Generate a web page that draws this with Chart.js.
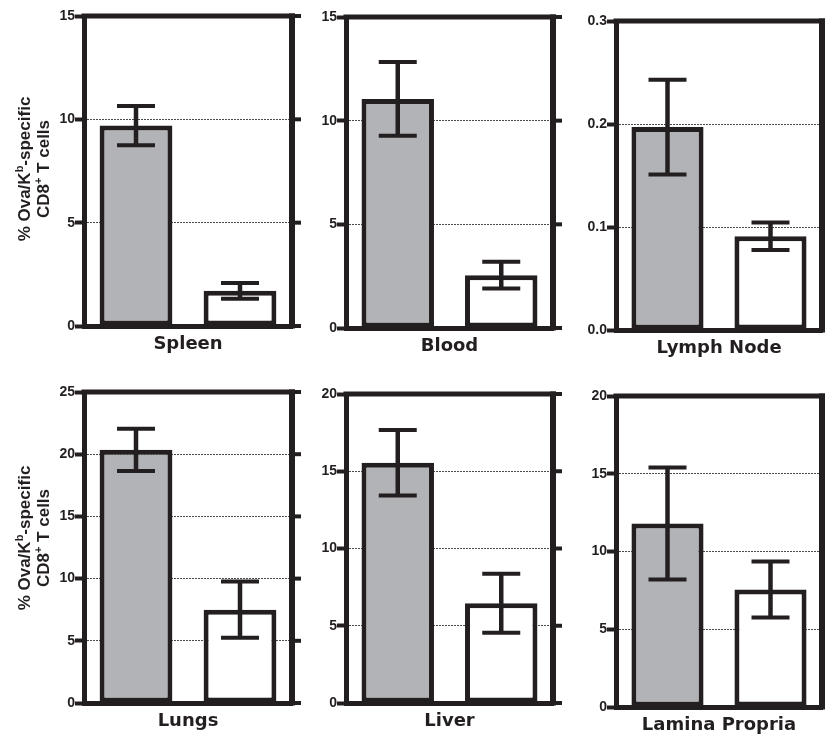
<!DOCTYPE html>
<html>
<head>
<meta charset="utf-8">
<script src="https://cdn.jsdelivr.net/npm/chart.js@4.4.1/dist/chart.umd.min.js"></script>
<style>
    html, body { margin: 0; padding: 0; background: #fff; overflow: hidden; }
    body { position: relative; width: 825px; height: 739px; }
    .panel { position: absolute; }
    .ytitle {
        position: absolute;
        transform: translate(-50%, -50%) rotate(-90deg);
        font: bold 17px 'Liberation Sans', Arial, sans-serif;
        line-height: 19px;
        text-align: center;
        white-space: nowrap;
        color: #231f20;
        z-index: 2;
    }
    .ytitle sup { font-size: 11px; line-height: 0; vertical-align: 7px; }
</style>
</head>
<body>
<div class="ytitle" style="left:34px; top:169px">% Ova/K<sup>b</sup>-specific<br>CD8<sup>+</sup> T cells</div>
<div class="ytitle" style="left:34px; top:538px">% Ova/K<sup>b</sup>-specific<br>CD8<sup>+</sup> T cells</div>
<script>
// Data
const organs = ['Spleen', 'Blood', 'Lymph Node', 'Lungs', 'Liver', 'Lamina Propria'];
const yMax = [15, 15, 0.3, 25, 20, 20];
const yStep = [5, 5, 0.1, 5, 5, 5];
const filledMean = [9.7, 11.05, 0.197, 20.35, 15.55, 11.8];
const filledErr = [0.95, 1.78, 0.046, 1.7, 2.12, 3.6];
const openMean = [1.7, 2.55, 0.091, 7.5, 6.45, 7.55];
const openErr = [0.38, 0.64, 0.0134, 2.26, 1.91, 1.8];

// Colours
const INK = '#231f20';
const GREY = '#b2b3b7';

// Layout: plot frame of each panel (axis line centres, px)
const FRAMES = [
    [84, 16, 292, 326],
    [346, 17, 553, 328],
    [616, 21, 822, 330],
    [84, 392, 292, 703],
    [346, 394, 553, 703],
    [616, 396, 822, 707]
];
const AXIS_W = 40, AXIS_H = 29, PAD_T = 10, PAD_R = 12;

Chart.defaults.font.family = "'DejaVu Sans', sans-serif";
Chart.defaults.font.weight = 'bold';
Chart.defaults.color = INK;

// top + right frame lines, with outward ticks on the right
const framePlugin = {
    id: 'frame',
    afterDatasetsDraw(chart) {
        const { ctx, chartArea: a, scales: { y } } = chart;
        ctx.save();
        ctx.strokeStyle = INK;
        ctx.lineWidth = 5;
        ctx.beginPath();
        ctx.moveTo(a.left - 2.5, a.top);
        ctx.lineTo(a.right + 3, a.top);
        ctx.stroke();
        ctx.lineWidth = 6;
        ctx.beginPath();
        ctx.moveTo(a.right, a.top - 2.5);
        ctx.lineTo(a.right, a.bottom + 2.5);
        ctx.stroke();
        ctx.lineWidth = 4;
        y.ticks.forEach(t => {
            const py = y.getPixelForValue(t.value);
            ctx.beginPath();
            ctx.moveTo(a.right, py);
            ctx.lineTo(a.right + 9, py);
            ctx.stroke();
        });
        ctx.restore();
    }
};

// mean +/- error whiskers
const errorBarPlugin = {
    id: 'errorBars',
    afterDatasetsDraw(chart) {
        const { ctx, scales: { y } } = chart;
        chart.data.datasets.forEach((ds, di) => {
            chart.getDatasetMeta(di).data.forEach((bar, j) => {
                const hi = y.getPixelForValue(ds.data[j] + ds.errors[j]);
                const lo = y.getPixelForValue(ds.data[j] - ds.errors[j]);
                ctx.save();
                ctx.strokeStyle = INK;
                ctx.lineWidth = 4.5;
                ctx.beginPath();
                ctx.moveTo(bar.x, hi);
                ctx.lineTo(bar.x, lo);
                ctx.stroke();
                ctx.lineWidth = 4;
                ctx.beginPath();
                ctx.moveTo(bar.x - 19, hi);
                ctx.lineTo(bar.x + 19, hi);
                ctx.moveTo(bar.x - 19, lo);
                ctx.lineTo(bar.x + 19, lo);
                ctx.stroke();
                ctx.restore();
            });
        });
    }
};

function makePanel(i) {
    const [l, t, r, b] = FRAMES[i];
    const box = document.createElement('div');
    box.className = 'panel';
    box.style.left = (l - AXIS_W) + 'px';
    box.style.top = (t - PAD_T) + 'px';
    box.style.width = (r + PAD_R - (l - AXIS_W)) + 'px';
    box.style.height = (b + AXIS_H - (t - PAD_T)) + 'px';
    const canvas = document.createElement('canvas');
    box.appendChild(canvas);
    document.body.appendChild(box);

    const decimals = yStep[i] < 1 ? 1 : 0;

    new Chart(canvas, {
        type: 'bar',
        data: {
            labels: ['', ''],
            datasets: [{
                data: [filledMean[i], openMean[i]],
                errors: [filledErr[i], openErr[i]],
                backgroundColor: [GREY, '#ffffff'],
                borderColor: INK,
                borderWidth: 5,
                borderSkipped: false,
                barPercentage: 0.7,
                categoryPercentage: 1
            }]
        },
        options: {
            responsive: true,
            maintainAspectRatio: false,
            animation: false,
            layout: { padding: { top: PAD_T, right: PAD_R, left: 0, bottom: 0 } },
            plugins: { legend: { display: false }, tooltip: { enabled: false } },
            scales: {
                x: {
                    afterFit: s => { s.height = AXIS_H; },
                    ticks: { display: false },
                    grid: { display: false },
                    border: { width: 5, color: INK },
                    title: {
                        display: true,
                        text: organs[i],
                        color: INK,
                        font: { size: 18, weight: 'bold', lineHeight: 1.2 },
                        padding: 0
                    }
                },
                y: {
                    min: 0,
                    max: yMax[i],
                    afterFit: s => { s.width = AXIS_W; },
                    ticks: {
                        stepSize: yStep[i],
                        padding: 0,
                        color: INK,
                        font: { family: "'Liberation Sans', Arial, sans-serif", size: 14, weight: 'bold' },
                        callback: v => Number(v).toFixed(decimals)
                    },
                    grid: {
                        color: c => (c.index === 0 || c.index === c.scale.ticks.length - 1) ? 'rgba(0,0,0,0)' : '#4a4a4a',
                        lineWidth: 1,
                        tickLength: 9,
                        tickWidth: 4,
                        tickColor: INK
                    },
                    border: { width: 5, color: INK, dash: [2, 1] }
                }
            }
        },
        plugins: [framePlugin, errorBarPlugin]
    });
}

organs.forEach((_, i) => makePanel(i));
</script>
</body>
</html>
